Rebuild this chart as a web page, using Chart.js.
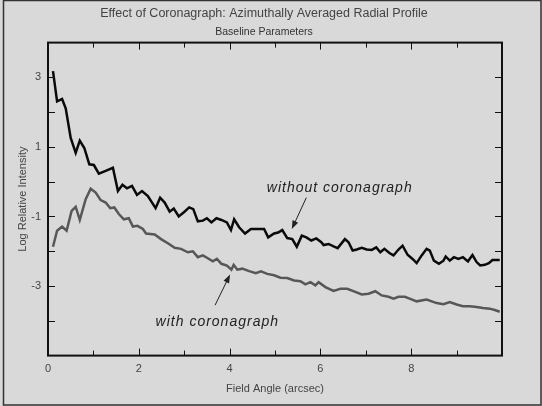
<!DOCTYPE html>
<html>
<head>
<meta charset="utf-8">
<script src="https://cdn.jsdelivr.net/npm/chart.js@4.4.0/dist/chart.umd.min.js"></script>
<style>
  html, body { margin: 0; padding: 0; background: #d9d9d9; }
  #wrap { width: 542px; height: 406px; }
</style>
</head>
<body>
<div id="wrap"><canvas id="grafico" width="542" height="406"></canvas></div>
<script>
// Datos (arcsec, log intensidad relativa)
const xSinCoronografo = [0.11,0.2,0.31,0.39,0.5,0.61,0.7,0.8,0.91,1.01,1.12,1.27,1.43,1.54,1.64,1.74,1.85,1.96,2.07,2.2,2.37,2.47,2.57,2.68,2.77,2.88,3.0,3.11,3.2,3.3,3.41,3.5,3.6,3.71,3.82,3.94,4.03,4.1,4.21,4.34,4.47,4.61,4.76,4.85,4.98,5.07,5.16,5.27,5.38,5.48,5.59,5.69,5.8,5.91,6.02,6.07,6.18,6.29,6.38,6.54,6.62,6.71,6.8,6.91,7.02,7.13,7.23,7.32,7.41,7.52,7.61,7.72,7.81,7.92,8.03,8.12,8.23,8.34,8.41,8.5,8.61,8.71,8.76,8.85,8.94,9.04,9.14,9.25,9.35,9.44,9.52,9.62,9.71,9.79,9.95];
const ySinCoronografo = [3.18,2.31,2.38,2.11,1.26,0.83,1.18,0.97,0.5,0.48,0.23,0.31,0.4,-0.27,-0.09,-0.19,-0.12,-0.38,-0.27,-0.41,-0.76,-0.46,-0.6,-0.86,-0.77,-1.0,-0.87,-0.74,-0.79,-1.14,-1.12,-1.05,-1.17,-1.05,-1.1,-1.17,-1.39,-1.08,-1.31,-1.49,-1.36,-1.36,-1.36,-1.6,-1.49,-1.46,-1.39,-1.62,-1.65,-1.87,-1.55,-1.6,-1.69,-1.63,-1.74,-1.82,-1.79,-1.86,-1.91,-1.65,-1.74,-1.98,-1.95,-1.9,-1.95,-1.96,-1.89,-2.03,-1.93,-2.05,-2.12,-1.95,-1.84,-2.1,-2.22,-2.34,-2.12,-1.93,-1.98,-2.27,-2.36,-2.27,-2.15,-2.27,-2.17,-2.22,-2.17,-2.29,-2.11,-2.31,-2.41,-2.39,-2.34,-2.25,-2.25];

const xConCoronografo = [0.11,0.2,0.31,0.41,0.52,0.61,0.7,0.83,0.94,1.05,1.16,1.27,1.37,1.46,1.56,1.67,1.78,1.87,1.97,2.09,2.16,2.35,2.49,2.64,2.79,2.93,3.08,3.19,3.3,3.41,3.52,3.63,3.72,3.82,3.94,4.04,4.09,4.17,4.28,4.43,4.58,4.69,4.83,4.98,5.12,5.27,5.42,5.56,5.67,5.78,5.89,5.96,6.11,6.29,6.44,6.59,6.77,6.91,7.06,7.21,7.35,7.5,7.61,7.72,7.86,7.98,8.12,8.34,8.56,8.71,8.85,9.0,9.14,9.29,9.44,9.58,9.73,9.84,9.95];
const yConCoronografo = [-1.87,-1.41,-1.29,-1.41,-0.84,-0.72,-1.1,-0.5,-0.2,-0.31,-0.53,-0.6,-0.76,-0.74,-0.93,-1.08,-1.05,-1.29,-1.27,-1.36,-1.49,-1.52,-1.65,-1.77,-1.9,-1.93,-2.03,-2.0,-2.17,-2.12,-2.2,-2.29,-2.22,-2.36,-2.41,-2.53,-2.39,-2.53,-2.5,-2.57,-2.63,-2.58,-2.65,-2.69,-2.76,-2.77,-2.84,-2.86,-2.95,-2.89,-2.98,-2.89,-3.03,-3.14,-3.08,-3.08,-3.17,-3.24,-3.22,-3.15,-3.27,-3.31,-3.36,-3.31,-3.31,-3.37,-3.44,-3.39,-3.49,-3.52,-3.46,-3.53,-3.58,-3.58,-3.6,-3.63,-3.65,-3.69,-3.74];

const etiquetasX = [0, 2, 4, 6, 8];
const etiquetasY = [3, 1, -1, -3];

// Anotaciones: texto y flecha en coordenadas de datos
const notas = [
  { texto: 'without coronagraph', tx: 4.82, ty: -0.18, desde: [5.69, -0.46], hasta: [5.37, -1.36] },
  { texto: 'with coronagraph', tx: 2.37, ty: -4.04, desde: [3.68, -3.55], hasta: [4.01, -2.67] }
];

function puntos(xs, ys) {
  return xs.map((x, i) => ({ x: x, y: ys[i] }));
}

const marco = {
  id: 'marco',
  beforeDraw(chart) {
    const ctx = chart.ctx;
    ctx.save();
    ctx.fillStyle = '#d9d9d9';
    ctx.fillRect(0, 0, chart.width, chart.height);
    ctx.restore();
  },
  afterDraw(chart) {
    const { ctx, chartArea: a, scales: { x, y } } = chart;
    ctx.save();
    ctx.strokeStyle = '#111';
    ctx.lineWidth = 1;
    ctx.beginPath();
    x.ticks.forEach(t => {
      if (t.value <= x.min || t.value >= x.max) return;
      const px = Math.round(x.getPixelForValue(t.value)) + 0.5;
      const largo = t.value % 2 === 0 ? 7 : 5;
      ctx.moveTo(px, a.bottom); ctx.lineTo(px, a.bottom - largo);
      ctx.moveTo(px, a.top); ctx.lineTo(px, a.top + largo);
    });
    y.ticks.forEach(t => {
      if (t.value <= y.min || t.value >= y.max) return;
      const py = Math.round(y.getPixelForValue(t.value)) + 0.5;
      ctx.moveTo(a.left, py); ctx.lineTo(a.left + 7, py);
      ctx.moveTo(a.right, py); ctx.lineTo(a.right - 7, py);
    });
    ctx.stroke();

    // marco del grafico
    ctx.lineWidth = 2;
    ctx.strokeStyle = '#111';
    ctx.strokeRect(a.left, a.top, a.right - a.left, a.bottom - a.top);

    // borde exterior
    ctx.lineWidth = 1.5;
    ctx.strokeStyle = '#333';
    ctx.strokeRect(3.5, 0.5, chart.width - 4.5, chart.height - 1.5);

    // anotaciones con flecha
    ctx.fillStyle = '#222';
    ctx.strokeStyle = '#222';
    ctx.font = 'italic 14px "Liberation Sans", Arial, sans-serif';
    ctx.letterSpacing = '1px';
    ctx.textBaseline = 'middle';
    ctx.textAlign = 'left';
    notas.forEach(n => {
      ctx.fillText(n.texto, x.getPixelForValue(n.tx), y.getPixelForValue(n.ty));
      const x0 = x.getPixelForValue(n.desde[0]), y0 = y.getPixelForValue(n.desde[1]);
      const x1 = x.getPixelForValue(n.hasta[0]), y1 = y.getPixelForValue(n.hasta[1]);
      const ang = Math.atan2(y1 - y0, x1 - x0);
      ctx.lineWidth = 1;
      ctx.beginPath();
      ctx.moveTo(x0, y0);
      ctx.lineTo(x1 - 6 * Math.cos(ang), y1 - 6 * Math.sin(ang));
      ctx.stroke();
      ctx.beginPath();
      ctx.moveTo(x1, y1);
      ctx.lineTo(x1 - 9 * Math.cos(ang - 0.35), y1 - 9 * Math.sin(ang - 0.35));
      ctx.lineTo(x1 - 9 * Math.cos(ang + 0.35), y1 - 9 * Math.sin(ang + 0.35));
      ctx.closePath();
      ctx.fill();
    });
    ctx.restore();
  }
};

const fuente = '"Liberation Sans", Arial, sans-serif';

new Chart(document.getElementById('grafico'), {
  type: 'line',
  data: {
    datasets: [
      {
        label: 'without coronagraph',
        data: puntos(xSinCoronografo, ySinCoronografo),
        borderColor: '#0a0a0a',
        borderWidth: 2.5,
        pointRadius: 0,
        tension: 0
      },
      {
        label: 'with coronagraph',
        data: puntos(xConCoronografo, yConCoronografo),
        borderColor: '#575757',
        borderWidth: 2.5,
        pointRadius: 0,
        tension: 0
      }
    ]
  },
  options: {
    responsive: false,
    animation: false,
    layout: { padding: { left: 26, right: 40, top: 0, bottom: 8 } },
    plugins: {
      legend: { display: false },
      tooltip: { enabled: false },
      title: {
        display: true,
        text: 'Effect of Coronagraph: Azimuthally Averaged Radial Profile',
        color: '#444',
        font: { family: fuente, size: 12.5, weight: 'normal' },
        padding: { top: 6, bottom: 5 }
      },
      subtitle: {
        display: true,
        text: 'Baseline Parameters',
        color: '#333',
        font: { family: fuente, size: 10.5, weight: 'normal' },
        padding: { top: 0, bottom: 4 }
      }
    },
    scales: {
      x: {
        type: 'linear',
        min: 0,
        max: 10,
        grid: { display: false, drawTicks: false },
        border: { display: false },
        ticks: {
          stepSize: 1,
          padding: 7,
          color: '#444',
          font: { family: fuente, size: 11 },
          callback: v => etiquetasX.includes(v) ? String(v) : ''
        },
        title: {
          display: true,
          text: 'Field Angle (arcsec)',
          color: '#444',
          font: { family: fuente, size: 11 },
          padding: { top: 0, bottom: 2 }
        }
      },
      y: {
        min: -5,
        max: 4,
        grid: { display: false, drawTicks: false },
        border: { display: false },
        afterFit: s => { s.width = 22; },
        ticks: {
          stepSize: 1,
          padding: 7,
          color: '#444',
          font: { family: fuente, size: 11 },
          callback: v => etiquetasY.includes(v) ? String(v) : ''
        },
        title: {
          display: true,
          text: 'Log Relative Intensity',
          color: '#444',
          font: { family: fuente, size: 11 },
          padding: { top: -10, bottom: 0 }
        }
      }
    }
  },
  plugins: [marco]
});
</script>
</body>
</html>
